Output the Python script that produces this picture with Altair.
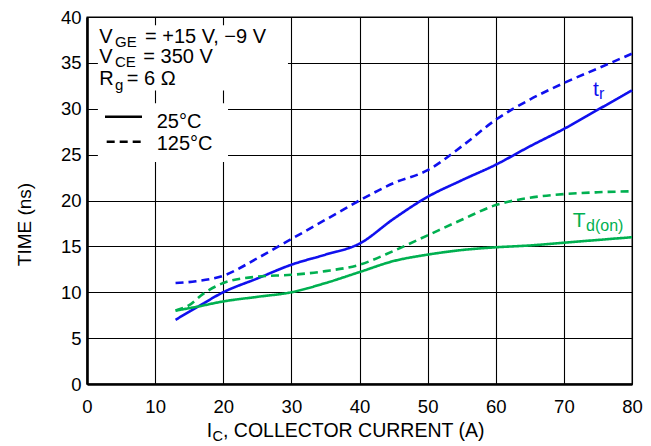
import altair as alt
import pandas as pd

# ---- data ----
x_tr = [13, 16, 20, 25, 30, 35, 40, 45, 50, 55, 60, 65, 70, 75, 80]
tr_25 = [7.0, 8.3, 10.0, 11.5, 13.0, 14.1, 15.3, 18.0, 20.4, 22.2, 23.9, 25.9, 27.8, 29.9, 32.0]
tr_125 = [11.0, 11.2, 11.8, 13.7, 15.8, 17.9, 20.0, 21.9, 23.3, 25.9, 28.8, 31.0, 32.8, 34.4, 36.0]

x_td25 = [13, 16, 20, 25, 30, 35, 40, 45, 50, 55, 60, 65, 70, 75, 80]
td_25 = [8.0, 8.4, 9.0, 9.5, 10.0, 11.0, 12.2, 13.4, 14.1, 14.6, 14.9, 15.1, 15.4, 15.7, 16.0]

x_td125 = [13, 15, 17, 20, 25, 30, 35, 40, 45, 50, 55, 60, 65, 70, 75, 80]
td_125 = [8.0, 8.6, 9.8, 11.0, 11.7, 11.9, 12.3, 13.0, 14.5, 16.2, 17.9, 19.5, 20.3, 20.7, 20.9, 21.0]

x_ticks = [0, 10, 20, 30, 40, 50, 60, 70, 80]
y_ticks = [0, 5, 10, 15, 20, 25, 30, 35, 40]

BLUE = "#1010ee"
GREEN = "#00b050"
FONT = "Liberation Sans"

rows = []
for x, y in zip(x_tr, tr_25):
    rows.append(dict(curve="tr25", color=BLUE, dash="solid", x=x, y=y))
for x, y in zip(x_tr, tr_125):
    rows.append(dict(curve="tr125", color=BLUE, dash="dash", x=x, y=y))
for x, y in zip(x_td25, td_25):
    rows.append(dict(curve="td25", color=GREEN, dash="solid", x=x, y=y))
for x, y in zip(x_td125, td_125):
    rows.append(dict(curve="td125", color=GREEN, dash="dash", x=x, y=y))
curves = pd.DataFrame(rows)

xs = alt.Scale(domain=[0, 80], nice=False, zero=False)
ys = alt.Scale(domain=[0, 40], nice=False, zero=False)

x_axis = alt.Axis(values=x_ticks, grid=True, gridColor="black", gridWidth=1.1, gridOpacity=1,
                  ticks=False, domainColor="black", domainWidth=2.6,
                  labelFont=FONT, labelFontSize=18.5, labelColor="black", labelPadding=13,
                  labelFlush=False, labelOverlap=False, title=None)
y_axis = alt.Axis(values=y_ticks, grid=True, gridColor="black", gridWidth=1.1, gridOpacity=1,
                  ticks=False, domainColor="black", domainWidth=2.6,
                  labelFont=FONT, labelFontSize=18.5, labelColor="black", labelPadding=6,
                  labelFlush=False, labelOverlap=False,
                  title="TIME (ns)", titleFont=FONT, titleFontSize=19, titleFontWeight="normal",
                  titleColor="black", titleX=-57, titleY=207, titleBaseline="alphabetic")

# white backgrounds behind the in-plot legend text
boxes = pd.DataFrame(dict(x1=[1.6, 1.6], x2=[29.5, 20.7], y1=[32.0, 24.2], y2=[39.1, 30.6]))
box_layer = alt.Chart(boxes).mark_rect(color="white").encode(
    x=alt.X("x1:Q", scale=xs, axis=x_axis), x2="x2:Q",
    y=alt.Y("y1:Q", scale=ys, axis=y_axis), y2="y2:Q")

lines = alt.Chart(curves).mark_line(strokeWidth=2.6, interpolate="monotone").encode(
    x=alt.X("x:Q", scale=xs),
    y=alt.Y("y:Q", scale=ys),
    detail="curve:N",
    color=alt.Color("color:N", scale=None),
    strokeDash=alt.StrokeDash("dash:N", scale=alt.Scale(domain=["solid", "dash"], range=[[1, 0], [8, 5]]), legend=None),
)

# legend line samples
leg = pd.DataFrame(dict(x1=[2.64, 2.89], x2=[8.07, 8.56], y=[29.13, 26.41], dash=["solid", "dash"]))
leg_lines = alt.Chart(leg).mark_rule(strokeWidth=2.4, color="black").encode(
    x=alt.X("x1:Q", scale=xs), x2="x2:Q", y=alt.Y("y:Q", scale=ys),
    strokeDash=alt.StrokeDash("dash:N", scale=alt.Scale(domain=["solid", "dash"], range=[[1, 0], [8, 5]]), legend=None),
)

texts = pd.DataFrame([
    dict(t="V", x=1.81, y=37.13, s=20, c="black"),
    dict(t="GE", x=4.11, y=36.76, s=15, c="black"),
    dict(t="= +15 V, \u22129 V", x=8.51, y=37.13, s=20, c="black"),
    dict(t="V", x=1.81, y=35.02, s=20, c="black"),
    dict(t="CE", x=4.11, y=34.58, s=15, c="black"),
    dict(t="= 350 V", x=8.26, y=35.02, s=20, c="black"),
    dict(t="R", x=1.81, y=32.59, s=20, c="black"),
    dict(t="g", x=4.11, y=32.04, s=15, c="black"),
    dict(t="= 6 \u03a9", x=5.83, y=32.59, s=20, c="black"),
    dict(t="25\u00b0C", x=10.23, y=27.87, s=20, c="black"),
    dict(t="125\u00b0C", x=10.23, y=25.50, s=20, c="black"),
    dict(t="t", x=74.28, y=31.39, s=21, c=BLUE),
    dict(t="r", x=75.16, y=31.03, s=16, c=BLUE),
    dict(t="T", x=71.3, y=17.08, s=21, c=GREEN),
    dict(t="d(on)", x=73.25, y=16.68, s=16, c=GREEN),
    dict(t="I", x=17.57, y=-5.74, s=19.5, c="black"),
    dict(t="C", x=18.42, y=-6.21, s=14.5, c="black"),
    dict(t=", COLLECTOR CURRENT (A)", x=19.96, y=-5.74, s=19.5, c="black"),
])
text_layer = alt.Chart(texts).mark_text(align="left", baseline="alphabetic", font=FONT).encode(
    x=alt.X("x:Q", scale=xs), y=alt.Y("y:Q", scale=ys),
    text="t:N",
    size=alt.Size("s:Q", scale=None),
    color=alt.Color("c:N", scale=None),
)

chart = alt.layer(box_layer, lines, leg_lines, text_layer).properties(
    width=545, height=367,
    autosize=alt.AutoSizeParams(type="none"),
    padding={"left": 79, "top": 9, "right": 11, "bottom": 61},
    background="white",
).configure_view(stroke="black", strokeWidth=1.3)

chart.save("out.html", embed_options={"renderer": "svg", "actions": False})
